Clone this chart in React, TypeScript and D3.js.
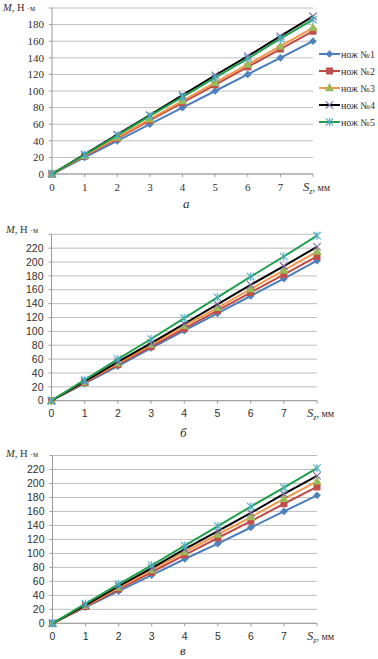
import React from "react";
import * as d3 from "d3";

const xValues = [0, 1, 2, 3, 4, 5, 6, 7, 8];
const xTickLabels = ["0", "1", "2", "3", "4", "5", "6", "7"];
const seriesNames = ["нож №1", "нож №2", "нож №3", "нож №4", "нож №5"];

// Panel а
const a1 = [0, 20, 40, 60, 80, 100, 120, 140, 160];
const a2 = [0, 21.5, 43, 64.5, 86, 107.5, 129, 150.5, 172];
const a3 = [0, 22, 44, 66, 88, 110, 132, 154, 176];
const a4 = [0, 23.7, 47.5, 71, 95, 119, 142, 166, 190];
const a5 = [0, 23.2, 46.5, 70, 93, 116, 139, 163, 186];
const aYTicks = [0, 20, 40, 60, 80, 100, 120, 140, 160, 180];

// Panel б
const b1 = [0, 25, 50, 76, 101, 126, 151, 176, 202];
const b2 = [0, 26, 52, 78, 104, 130, 156, 182, 208];
const b3 = [0, 27, 54, 81, 108, 134, 161, 188, 215];
const b4 = [0, 28, 56, 83, 111, 139, 167, 194, 222];
const b5 = [0, 30, 60, 89, 119, 149, 179, 208, 238];
const bYTicks = [0, 20, 40, 60, 80, 100, 120, 140, 160, 180, 200, 220];

// Panel в
const c1 = [0, 23, 46, 69, 92, 114, 137, 160, 183];
const c2 = [0, 24, 49, 73, 98, 122, 146, 171, 195];
const c3 = [0, 25, 51, 76, 102, 127, 152, 178, 203];
const c4 = [0, 26, 53, 79, 106, 132, 158, 185, 211];
const c5 = [0, 28, 56, 83, 111, 139, 167, 194, 222];
const cYTicks = bYTicks;

const lineColors = ["#4A7EBB", "#BE4B48", "#F79646", "#000000", "#1FA04A"];
const markerColors = ["#4F81BD", "#C0504D", "#9BBB59", "#8064A2", "#4BACC6"];

const SERIF = "Liberation Serif, Times New Roman, serif";
const SANS = "Liberation Sans, Arial, sans-serif";

function Marker({ kind, x, y }: { kind: number; x: number; y: number }) {
  const col = markerColors[kind];
  if (kind === 0) {
    const p = d3.symbol().type(d3.symbolDiamond2).size(38)();
    return <path d={p!} transform={`translate(${x},${y})`} fill={col} />;
  }
  if (kind === 1) {
    return <rect x={x - 3.5} y={y - 3.5} width={7} height={7} fill={col} />;
  }
  if (kind === 2) {
    const p = d3.symbol().type(d3.symbolTriangle).size(38)();
    return <path d={p!} transform={`translate(${x},${y + 0.5})`} fill={col} />;
  }
  if (kind === 3) {
    const r = 3.7;
    return (
      <path
        d={`M${x - r},${y - r}L${x + r},${y + r}M${x - r},${y + r}L${x + r},${y - r}`}
        stroke={col}
        strokeWidth={1.1}
      />
    );
  }
  const r = 3.7;
  return (
    <path
      d={`M${x - r},${y - r}L${x + r},${y + r}M${x - r},${y + r}L${x + r},${y - r}M${x},${y - r - 0.5}L${x},${y + r + 0.5}`}
      stroke={col}
      strokeWidth={1.1}
    />
  );
}

type PanelProps = {
  series: number[][];
  yTicks: number[];
  yMax: number;
  x0: number;
  x1: number;
  yTop: number;
  yBottom: number;
  tickFont: string;
  tickSize: number;
  titleX: number;
  titleY: number;
  xLabelY: number;
  caption: string;
  capX: number;
  capY: number;
  legend?: boolean;
};

function Panel(p: PanelProps) {
  const xs = d3.scaleLinear().domain([0, 8]).range([p.x0, p.x1]);
  const ys = d3.scaleLinear().domain([0, p.yMax]).range([p.yBottom, p.yTop]);
  const line = d3
    .line<number>()
    .x((_, i) => xs(xValues[i]))
    .y((d) => ys(d));
  const grid = [...p.yTicks, p.yMax];
  return (
    <g>
      {grid.map((t) => (
        <line key={"g" + t} x1={p.x0} x2={p.x1} y1={ys(t)} y2={ys(t)} stroke="#BDBDBD" strokeWidth={1} />
      ))}
      {grid.map((t) => (
        <line key={"t" + t} x1={p.x0 - 3} x2={p.x0} y1={ys(t)} y2={ys(t)} stroke="#9A9A9A" strokeWidth={1} />
      ))}
      <line x1={p.x0} x2={p.x0} y1={p.yTop} y2={p.yBottom} stroke="#9A9A9A" strokeWidth={1} />
      <line x1={p.x0} x2={p.x1} y1={p.yBottom} y2={p.yBottom} stroke="#9A9A9A" strokeWidth={1} />
      {xValues.map((v) => (
        <line key={"xt" + v} x1={xs(v)} x2={xs(v)} y1={p.yBottom} y2={p.yBottom + 3} stroke="#9A9A9A" strokeWidth={1} />
      ))}
      {p.yTicks.map((t) => (
        <text
          key={"yl" + t}
          x={p.x0 - 8}
          y={ys(t)}
          dy="0.35em"
          textAnchor="end"
          fontFamily={p.tickFont}
          fontSize={p.tickSize}
          fill="#303030"
        >
          {t}
        </text>
      ))}
      {xTickLabels.map((t, i) => (
        <text
          key={"xl" + t}
          x={xs(i)}
          y={p.xLabelY}
          textAnchor="middle"
          fontFamily={p.tickFont}
          fontSize={p.tickSize}
          fill="#303030"
        >
          {t}
        </text>
      ))}
      <text x={xs(8) - 10} y={p.xLabelY} fontFamily={SERIF} fontSize={11} fill="#303030">
        <tspan fontStyle="italic" fontSize={12.5}>S</tspan>
        <tspan fontStyle="italic" fontSize={8} dy={3}>z</tspan>
        <tspan dy={-3} fontSize={10}>, мм</tspan>
      </text>
      <text x={p.titleX} y={p.titleY} fontFamily={SERIF} fontSize={10.5} fill="#303030">
        <tspan fontStyle="italic">M</tspan>
        <tspan>, Н </tspan>
        <tspan fontSize={8}>·м</tspan>
      </text>
      {p.series.map((s, k) => (
        <g key={"s" + k}>
          <path d={line(s)!} fill="none" stroke={lineColors[k]} strokeWidth={2} />
          {s.map((v, i) => (
            <Marker key={i} kind={k} x={xs(xValues[i])} y={ys(v)} />
          ))}
        </g>
      ))}
      {p.legend &&
        seriesNames.map((n, k) => {
          const ly = 54 + k * 17;
          return (
            <g key={"lg" + k}>
              <line x1={319} x2={340} y1={ly} y2={ly} stroke={lineColors[k]} strokeWidth={2} />
              <Marker kind={k} x={329.5} y={ly} />
              <text x={341} y={ly} dy="0.35em" fontFamily={SERIF} fontSize={10} fill="#303030">
                {n}
              </text>
            </g>
          );
        })}
      <text x={p.capX} y={p.capY} fontFamily={SERIF} fontStyle="italic" fontSize={13} fill="#303030">
        {p.caption}
      </text>
    </g>
  );
}

export default function App() {
  return (
    <svg
      width={378}
      height={659}
      style={{ position: "absolute", left: 0, top: 0, background: "#fff" }}
    >
      <rect width={378} height={659} fill="#fff" />
      <Panel
        series={[a1, a2, a3, a4, a5]}
        yTicks={aYTicks}
        yMax={200}
        x0={52}
        x1={313}
        yTop={8}
        yBottom={174}
        tickFont={SERIF}
        tickSize={11}
        titleX={3}
        titleY={11}
        xLabelY={191}
        caption="а"
        capX={183}
        capY={208}
        legend
      />
      <Panel
        series={[b1, b2, b3, b4, b5]}
        yTicks={bYTicks}
        yMax={240}
        x0={51.5}
        x1={317}
        yTop={234.3}
        yBottom={400.7}
        tickFont={SANS}
        tickSize={10.5}
        titleX={6}
        titleY={233}
        xLabelY={417}
        caption="б"
        capX={180}
        capY={437}
      />
      <Panel
        series={[c1, c2, c3, c4, c5]}
        yTicks={cYTicks}
        yMax={240}
        x0={52.5}
        x1={317}
        yTop={455.5}
        yBottom={623.3}
        tickFont={SANS}
        tickSize={10.5}
        titleX={6}
        titleY={457}
        xLabelY={640}
        caption="в"
        capX={180}
        capY={655}
      />
    </svg>
  );
}
